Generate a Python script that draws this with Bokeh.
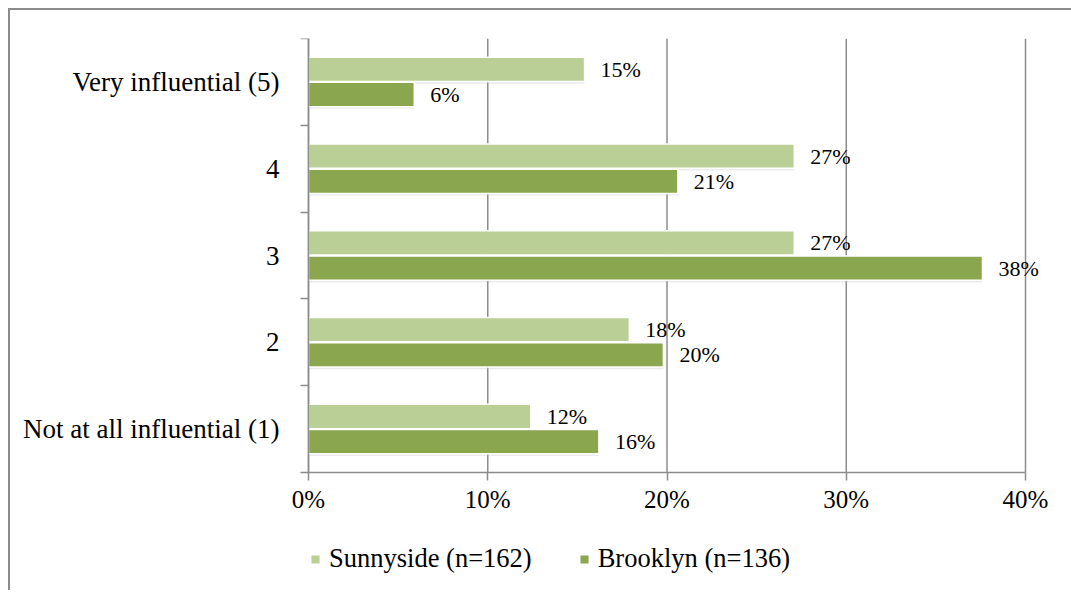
from bokeh.plotting import figure
from bokeh.models import FixedTicker, Legend, LegendItem, ColumnDataSource
from bokeh.core.properties import value
from bokeh.transform import dodge
from bokeh.embed import file_html
from bokeh.resources import INLINE

categories = ["Not at all influential (1)", "2", "3", "4", "Very influential (5)"]
sunnyside = [12.4, 17.9, 27.1, 27.1, 15.4]
brooklyn = [16.2, 19.8, 37.6, 20.6, 5.9]
series_names = ["Sunnyside (n=162)", "Brooklyn (n=136)"]
x_ticks = [0, 10, 20, 30, 40]

LIGHT = "#bacf96"
DARK = "#8aa64f"
GRID = "#8c8c8c"
FONT = "Liberation Serif"

N = len(categories)
# layout (pixels)
PLOT_W = 717          # width of the 0..40% area
PLOT_H = 434          # height of the category area
LEFT_PX = 298         # room left of 0% (inside the frame) for category labels
FRAME_W = 1061
EXTRA_H = 118         # room below the axis (inside the frame) for the legend
PX_X = PLOT_W / 40
PX_Y = PLOT_H / N
XMIN = -LEFT_PX / PX_X
XMAX = (FRAME_W - LEFT_PX) / PX_X
YMIN = -EXTRA_H / PX_Y

ypos = [i + 0.5 for i in range(N)]
src = ColumnDataSource(dict(
    y=ypos,
    s=sunnyside,
    b=brooklyn,
    s_lab=[f"{round(v)}%" for v in sunnyside],
    b_lab=[f"{round(v)}%" for v in brooklyn],
))

p = figure(frame_width=FRAME_W, frame_height=PLOT_H + EXTRA_H,
           x_range=(XMIN, XMAX), y_range=(YMIN, N),
           output_backend="svg", toolbar_location=None,
           min_border_left=0, min_border_right=0,
           min_border_top=28, min_border_bottom=0)
p.margin = (8, 0, 0, 8)
p.styles = {"border-left": "2px solid #8c8c8c", "border-top": "2px solid #8c8c8c"}
p.outline_line_color = None
p.background_fill_color = "white"
p.border_fill_color = "white"

# vertical gridlines (only over the category area)
p.segment(x0=x_ticks, y0=[0] * len(x_ticks), x1=x_ticks, y1=[N] * len(x_ticks),
          line_color=GRID, line_width=1.5)

H = 0.28
OFF = 0.145
# soft shadows
p.hbar(y=dodge("y", OFF - 0.025), left=0, right="s", height=H, source=src,
       fill_color="#bdbdbd", fill_alpha=0.3, line_color=None)
p.hbar(y=dodge("y", -OFF - 0.025), left=0, right="b", height=H, source=src,
       fill_color="#bdbdbd", fill_alpha=0.3, line_color=None)
r1 = p.hbar(y=dodge("y", OFF), left=0, right="s", height=H, source=src,
            fill_color=LIGHT, line_color="white", line_width=1.5)
r2 = p.hbar(y=dodge("y", -OFF), left=0, right="b", height=H, source=src,
            fill_color=DARK, line_color="white", line_width=1.5)

p.text(x="s", y=dodge("y", OFF), text="s_lab", source=src, x_offset=16,
       text_font=value(FONT), text_font_size="22px", text_baseline="middle", text_color="black")
p.text(x="b", y=dodge("y", -OFF), text="b_lab", source=src, x_offset=16,
       text_font=value(FONT), text_font_size="22px", text_baseline="middle", text_color="black")

# x axis, drawn at y = 0 inside the frame
p.xaxis.fixed_location = 0
p.xaxis.ticker = FixedTicker(ticks=x_ticks)
p.xaxis.bounds = (0, 40)
p.xaxis.major_label_overrides = {t: f"{t}%" for t in x_ticks}
p.xaxis.axis_line_color = GRID
p.xaxis.axis_line_width = 1.5
p.xaxis.major_tick_line_color = GRID
p.xaxis.major_tick_line_width = 1.5
p.xaxis.major_tick_in = 0
p.xaxis.major_tick_out = 8
p.xaxis.minor_tick_line_color = None
p.xaxis.major_label_text_font = FONT
p.xaxis.major_label_text_font_size = "25px"
p.xaxis.major_label_text_color = "black"
p.xaxis.major_label_standoff = 5

# y axis, drawn at x = 0 inside the frame
p.yaxis.fixed_location = 0
p.yaxis.bounds = (0, N)
p.yaxis.ticker = FixedTicker(ticks=ypos, minor_ticks=list(range(N + 1)))
p.yaxis.major_label_overrides = {y: c for y, c in zip(ypos, categories)}
p.yaxis.axis_line_color = GRID
p.yaxis.axis_line_width = 1.5
p.yaxis.major_tick_line_color = None
p.yaxis.major_tick_in = 0
p.yaxis.major_tick_out = 0
p.yaxis.minor_tick_line_color = GRID
p.yaxis.minor_tick_line_width = 1.5
p.yaxis.minor_tick_in = 0
p.yaxis.minor_tick_out = 8
p.yaxis.major_label_text_font = FONT
p.yaxis.major_label_text_font_size = "27px"
p.yaxis.major_label_text_color = "black"
p.yaxis.major_label_standoff = 21

p.xgrid.grid_line_color = None
p.ygrid.grid_line_color = None

legend = Legend(items=[LegendItem(label=series_names[0], renderers=[r1]),
                       LegendItem(label=series_names[1], renderers=[r2])],
                orientation="horizontal", location=(LEFT_PX + 1, 16),
                border_line_color=None, background_fill_alpha=0,
                padding=4, margin=0)
legend.glyph_width = 12
legend.glyph_height = 12
legend.label_standoff = 8
legend.spacing = 46
legend.label_text_font = FONT
legend.label_text_font_size = "26.5px"
legend.label_text_color = "black"
p.add_layout(legend, "center")

open("out.html", "w").write(file_html(p, INLINE))
